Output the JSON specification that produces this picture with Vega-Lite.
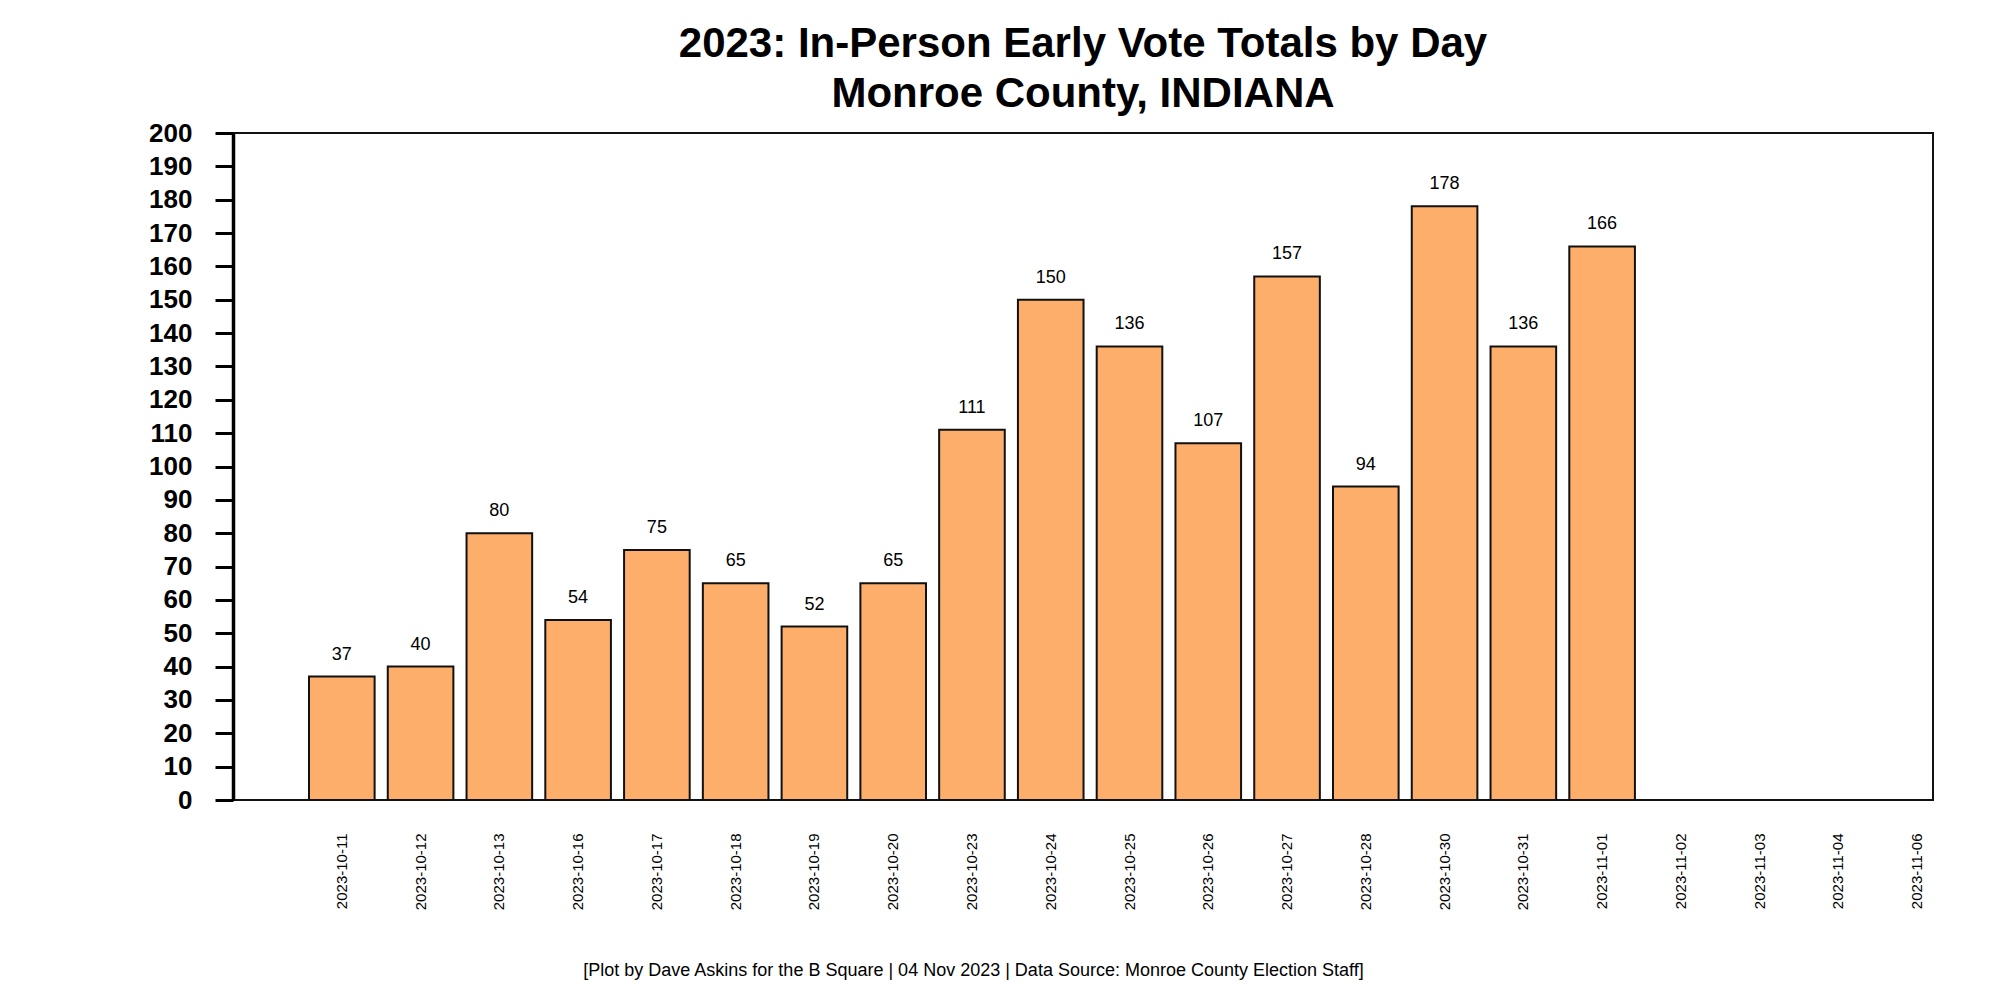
{
  "$schema": "https://vega.github.io/schema/vega-lite/v6.json",
  "autosize": "none",
  "width": 1700,
  "height": 667,
  "padding": {"left": 233, "top": 133, "right": 67, "bottom": 200},
  "background": "white",
  "title": {
    "text": ["2023: In-Person Early Vote Totals by Day", "Monroe County, INDIANA"],
    "font": "Liberation Sans",
    "fontSize": 42,
    "fontWeight": "bold",
    "lineHeight": 50,
    "color": "black",
    "anchor": "middle",
    "frame": "group",
    "offset": 4
  },
  "config": {
    "view": {"stroke": "#111111", "strokeWidth": 2},
    "font": "Liberation Sans"
  },
  "data": {
    "values": [
      {"date": "2023-10-11", "votes": 37},
      {"date": "2023-10-12", "votes": 40},
      {"date": "2023-10-13", "votes": 80},
      {"date": "2023-10-16", "votes": 54},
      {"date": "2023-10-17", "votes": 75},
      {"date": "2023-10-18", "votes": 65},
      {"date": "2023-10-19", "votes": 52},
      {"date": "2023-10-20", "votes": 65},
      {"date": "2023-10-23", "votes": 111},
      {"date": "2023-10-24", "votes": 150},
      {"date": "2023-10-25", "votes": 136},
      {"date": "2023-10-26", "votes": 107},
      {"date": "2023-10-27", "votes": 157},
      {"date": "2023-10-28", "votes": 94},
      {"date": "2023-10-30", "votes": 178},
      {"date": "2023-10-31", "votes": 136},
      {"date": "2023-11-01", "votes": 166},
      {"date": "2023-11-02", "votes": null},
      {"date": "2023-11-03", "votes": null},
      {"date": "2023-11-04", "votes": null},
      {"date": "2023-11-06", "votes": null}
    ]
  },
  "encoding": {
    "x": {
      "field": "date",
      "type": "nominal",
      "sort": null,
      "scale": {
        "domain": ["2023-10-11","2023-10-12","2023-10-13","2023-10-16","2023-10-17","2023-10-18","2023-10-19","2023-10-20","2023-10-23","2023-10-24","2023-10-25","2023-10-26","2023-10-27","2023-10-28","2023-10-30","2023-10-31","2023-11-01","2023-11-02","2023-11-03","2023-11-04","2023-11-06"],
        "range": [76, 1717],
        "paddingInner": 0.167,
        "paddingOuter": 0
      },
      "axis": {
        "title": "[Plot by Dave Askins for the B Square | 04 Nov 2023 | Data Source: Monroe County Election Staff]",
        "titleFont": "Liberation Sans",
        "titleFontSize": 18,
        "titleFontWeight": "normal",
        "titleColor": "black",
        "titleX": 740,
        "titleY": 175,
        "titleAlign": "center",
        "titleBaseline": "alphabetic",
        "labelAngle": 270,
        "labelFont": "Liberation Sans",
        "labelFontSize": 15,
        "labelColor": "black",
        "labelPadding": 33,
        "ticks": false,
        "tickSize": 0,
        "domain": false,
        "grid": false
      }
    },
    "y": {
      "field": "votes",
      "type": "quantitative",
      "scale": {"domain": [0, 200], "nice": false},
      "axis": {
        "title": null,
        "values": [0,10,20,30,40,50,60,70,80,90,100,110,120,130,140,150,160,170,180,190,200],
        "labelFont": "Liberation Sans",
        "labelFontSize": 26,
        "labelFontWeight": "bold",
        "labelColor": "black",
        "labelPadding": 23,
        "tickSize": 18,
        "tickWidth": 3,
        "tickColor": "black",
        "domainWidth": 3.5,
        "domainColor": "black",
        "grid": false
      }
    }
  },
  "layer": [
    {
      "mark": {"type": "bar", "color": "#FDAE6B", "stroke": "#111111", "strokeWidth": 2}
    },
    {
      "transform": [{"filter": "datum.votes != null"}],
      "mark": {"type": "text", "font": "Liberation Sans", "fontSize": 18, "color": "black", "baseline": "alphabetic", "dy": -17},
      "encoding": {"text": {"field": "votes", "type": "quantitative"}}
    }
  ]
}
